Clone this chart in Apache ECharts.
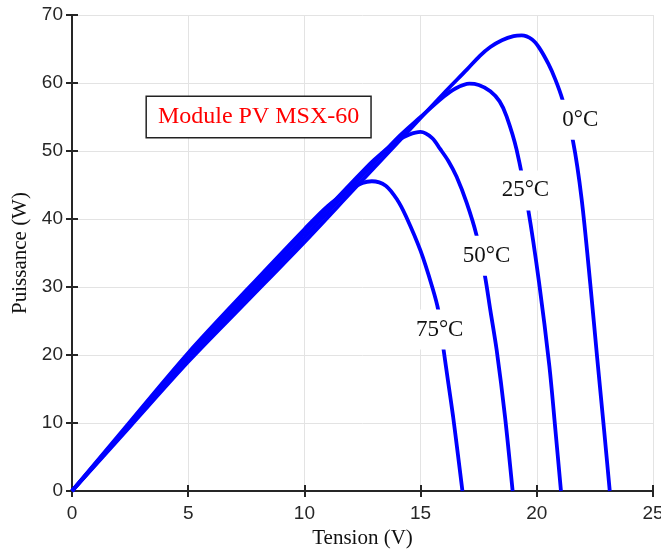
<!DOCTYPE html>
<html>
<head>
<meta charset="utf-8">
<script src="https://cdn.jsdelivr.net/npm/echarts@6/dist/echarts.min.js"></script>
<style>
html,body{margin:0;padding:0;background:#fff;}
#chart{width:661px;height:551px;}
</style>
</head>
<body>
<div id="chart"></div>
<script>
// Tension (V) / Puissance (W) for each temperature
const v0C  = [0,2.5,5,7.5,10,12,14,16,17,17.55,18,18.5,19,19.35,19.8,20.1,20.5,20.8,21.1,21.56,21.93,22.3,22.6,22.9,23.14];
const p0C  = [0,9.5,19.0,27.8,36.6,43.9,51.2,58.5,62.0,64.0,65.3,66.3,66.9,67.0,66.4,65.2,62.8,60.5,57.6,51.4,42.9,30.5,19.5,8.8,0];

const v25C = [0,2.5,5,7.5,10,12,14,15,16,16.5,17.1,17.5,18,18.4,18.7,19.13,19.63,20.1,20.54,20.8,21.04];
const p25C = [0,9.75,19.5,28.4,37.3,44.6,51.9,55.0,58.0,59.2,59.9,59.7,58.8,57.3,55.1,50.2,41.4,30.6,18.4,9.0,0];

const v50C = [0,2.5,5,7.5,10,12,13,14,14.5,15,15.5,15.84,16.2,16.55,16.98,17.4,17.77,18.0,18.27,18.63,18.96];
const p50C = [0,9.95,19.9,29.0,38.0,45.2,48.7,51.5,52.4,52.8,51.9,50.3,48.5,46.2,42.4,37.7,31.6,26.6,20.8,11.0,0];

const v75C = [0,2.5,5,7.5,10,11,12,12.5,12.9,13.5,14,14.37,15,15.5,15.76,15.98,16.2,16.4,16.6,16.8];
const p75C = [0,10.2,20.3,29.5,38.5,41.9,44.4,45.3,45.55,44.9,42.8,40.4,35.3,30.0,26.6,21.0,15.7,10.9,5.5,0];

// curve labels
const labelText = ['0°C','25°C','50°C','75°C'];
const labelV = [21.87, 19.51, 17.84, 15.82];
const labelP = [54.6, 44.2, 34.6, 23.75];

// annotation box
const boxText = 'Module PV MSX-60';
const boxV = 8.03;
const boxP = 55.0;

// axes
const xTicks = [0,5,10,15,20,25];
const yTicks = [0,10,20,30,40,50,60,70];
const xName = 'Tension (V)';
const yName = 'Puissance (W)';

function pairs(xs, ys){ return xs.map((x,i)=>[x, ys[i]]); }

const axisCol = '#262626';
const sans = 'Liberation Sans';
const serif = 'Liberation Serif';

const chart = echarts.init(document.getElementById('chart'), null, {renderer:'canvas'});

function lineSeries(name, xs, ys){
  return {
    name: name, type:'line', data: pairs(xs, ys),
    xAxisIndex:0, yAxisIndex:0,
    smooth: 0.3,
    showSymbol:false, symbol:'none',
    lineStyle:{color:'#0000ff', width:3.8},
    z:2, silent:true, animation:false
  };
}

const option = {
  animation:false,
  backgroundColor:'#ffffff',
  grid:{left:72, right:8, top:15, bottom:60, containLabel:false, outerBoundsMode:'none'},
  xAxis:[
    {type:'value', min:xTicks[0], max:xTicks[xTicks.length-1], interval:5, position:'bottom',
     name:xName, nameLocation:'middle', nameGap:36,
     nameTextStyle:{fontFamily:serif, fontSize:21, color:'#111'},
     axisLine:{show:true, lineStyle:{color:axisCol, width:2}},
     axisTick:{show:true, inside:true, length:6, lineStyle:{color:axisCol, width:2}},
     axisLabel:{show:true, margin:13, fontFamily:sans, fontSize:19, color:axisCol},
     splitLine:{show:true, lineStyle:{color:'#e3e3e3', width:1}}},
    {type:'value', min:xTicks[0], max:xTicks[xTicks.length-1], interval:5, position:'top',
     axisLine:{show:true, lineStyle:{color:axisCol, width:2}},
     axisTick:{show:true, inside:true, length:6, lineStyle:{color:axisCol, width:2}},
     axisLabel:{show:false}, splitLine:{show:false}}
  ],
  yAxis:[
    {type:'value', min:yTicks[0], max:yTicks[yTicks.length-1], interval:10, position:'left',
     name:yName, nameLocation:'middle', nameGap:35, nameRotate:90,
     nameTextStyle:{fontFamily:serif, fontSize:21, color:'#111'},
     axisLine:{show:true, lineStyle:{color:axisCol, width:2}},
     axisTick:{show:true, inside:true, length:6, lineStyle:{color:axisCol, width:2}},
     axisLabel:{show:true, margin:9, fontFamily:sans, fontSize:19, color:axisCol},
     splitLine:{show:true, lineStyle:{color:'#e3e3e3', width:1}}},
    {type:'value', min:yTicks[0], max:yTicks[yTicks.length-1], interval:10, position:'right',
     axisLine:{show:true, lineStyle:{color:axisCol, width:2}},
     axisTick:{show:true, inside:true, length:6, lineStyle:{color:axisCol, width:2}},
     axisLabel:{show:false}, splitLine:{show:false}}
  ],
  series:[
    lineSeries('0°C', v0C, p0C),
    lineSeries('25°C', v25C, p25C),
    lineSeries('50°C', v50C, p50C),
    lineSeries('75°C', v75C, p75C),
    {
      type:'scatter', xAxisIndex:0, yAxisIndex:0, z:5, silent:true,
      symbolSize:0, itemStyle:{opacity:1},
      data: labelText.map((t,i)=>({value:[labelV[i], labelP[i]], name:t})),
      label:{show:true, position:'inside', formatter: p=>p.name,
        fontFamily:serif, fontSize:23, color:'#111',
        backgroundColor:'#ffffff', padding:[9,3], lineHeight:22}
    },
    {
      type:'scatter', xAxisIndex:0, yAxisIndex:0, z:5, silent:true,
      symbolSize:0, itemStyle:{opacity:1},
      data:[{value:[boxV, boxP], name:boxText}],
      label:{show:true, position:'inside', formatter: p=>p.name,
        fontFamily:serif, fontSize:24, color:'#ff0000',
        backgroundColor:'#ffffff', borderColor:'#222', borderWidth:1.5,
        padding:[8,11], lineHeight:24}
    }
  ]
};
chart.setOption(option);
</script>
</body>
</html>
